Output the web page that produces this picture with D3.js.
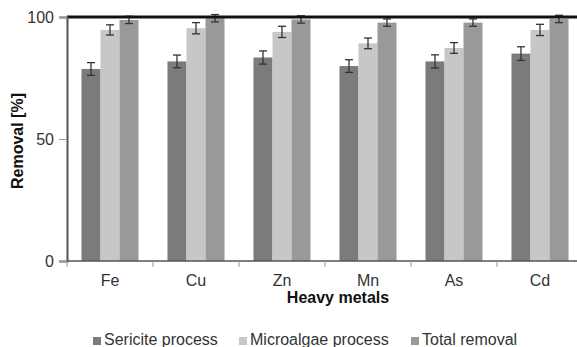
<!DOCTYPE html>
<html>
<head>
<meta charset="utf-8">
<style>
  body { margin: 0; background: #fff; }
  text { font-family: "Liberation Sans", Arial, sans-serif; }
</style>
</head>
<body>
<div id="chart"></div>
<script src="https://d3js.org/d3.v7.min.js"></script>
<script>
  const metals = ["Fe", "Cu", "Zn", "Mn", "As", "Cd"];
  const seriesNames = ["Sericite process", "Microalgae process", "Total removal"];
  const sericite = [78.7, 81.8, 83.4, 79.9, 81.8, 85.0];
  const microalgae = [94.7, 95.4, 93.9, 89.2, 87.3, 94.7];
  const total = [98.8, 99.5, 99.0, 97.7, 97.7, 99.2];
  const sericiteErr = [2.6, 2.6, 2.7, 2.6, 2.7, 2.8];
  const microalgaeErr = [2.1, 2.3, 2.3, 2.2, 2.2, 2.3];
  const totalErr = [1.5, 1.5, 1.5, 1.5, 1.5, 1.5];
  const yTicks = [0, 50, 100];
  const colors = ["#7b7b7b", "#c6c7c6", "#999999"];

  const width = 577, height = 347;
  const margin = { left: 67, right: -6, top: 17, bottom: 86 };

  const values = [sericite, microalgae, total];
  const errors = [sericiteErr, microalgaeErr, totalErr];

  const svg = d3.select("#chart").append("svg")
    .attr("width", width)
    .attr("height", height);

  const x = d3.scaleBand()
    .domain(metals)
    .range([margin.left, width - margin.right])
    .paddingInner(0.337)
    .paddingOuter(0.1685);

  const xSub = d3.scaleBand()
    .domain(d3.range(3))
    .range([0, x.bandwidth()]);

  const y = d3.scaleLinear()
    .domain([0, 100])
    .range([height - margin.bottom, margin.top]);

  // bars
  const groups = svg.append("g")
    .selectAll("g")
    .data(metals)
    .join("g")
    .attr("transform", d => `translate(${x(d)},0)`);

  const barData = (d, i) => values.map((s, k) => ({ k, v: s[i], e: errors[k][i] }));

  groups.selectAll("rect")
    .data(barData)
    .join("rect")
    .attr("x", d => xSub(d.k))
    .attr("width", xSub.bandwidth())
    .attr("y", d => y(d.v))
    .attr("height", d => y(0) - y(d.v))
    .attr("fill", d => colors[d.k]);

  // error bars
  const eb = groups.selectAll("g.err")
    .data(barData)
    .join("g")
    .attr("class", "err")
    .attr("stroke", "#333")
    .attr("stroke-width", 1.3);
  eb.append("line")
    .attr("x1", d => xSub(d.k) + xSub.bandwidth() / 2)
    .attr("x2", d => xSub(d.k) + xSub.bandwidth() / 2)
    .attr("y1", d => y(d.v - d.e))
    .attr("y2", d => y(d.v + d.e));
  eb.selectAll("line.cap")
    .data(d => [d.v - d.e, d.v + d.e].map(v => ({ k: d.k, v })))
    .join("line")
    .attr("class", "cap")
    .attr("x1", d => xSub(d.k) + xSub.bandwidth() / 2 - 4)
    .attr("x2", d => xSub(d.k) + xSub.bandwidth() / 2 + 4)
    .attr("y1", d => y(d.v))
    .attr("y2", d => y(d.v));

  // top frame line
  svg.append("line")
    .attr("x1", margin.left)
    .attr("x2", width)
    .attr("y1", y(100))
    .attr("y2", y(100))
    .attr("stroke", "#111")
    .attr("stroke-width", 3);

  // y axis
  const yAxis = svg.append("g")
    .attr("transform", `translate(${margin.left},0)`)
    .call(d3.axisLeft(y).tickValues(yTicks).tickSize(8).tickPadding(5));
  yAxis.select(".domain").attr("stroke", "#555").attr("stroke-width", 2);
  yAxis.selectAll(".tick line").attr("stroke", "#999");
  yAxis.selectAll("text")
    .style("font-family", "Liberation Sans, Arial, sans-serif")
    .style("font-size", "16px")
    .attr("fill", "#333");

  // x axis
  const xTickPos = d3.range(metals.length + 1).map(i => margin.left + i * x.step());
  svg.append("line")
    .attr("x1", margin.left)
    .attr("x2", width)
    .attr("y1", y(0))
    .attr("y2", y(0))
    .attr("stroke", "#555")
    .attr("stroke-width", 1.5);
  svg.append("g")
    .selectAll("line")
    .data(xTickPos)
    .join("line")
    .attr("x1", d => d)
    .attr("x2", d => d)
    .attr("y1", y(0))
    .attr("y2", y(0) + 6)
    .attr("stroke", "#999");
  svg.append("g")
    .selectAll("text")
    .data(metals)
    .join("text")
    .attr("x", d => x(d) + x.bandwidth() / 2)
    .attr("y", y(0) + 25)
    .attr("text-anchor", "middle")
    .style("font-size", "16px")
    .attr("fill", "#333")
    .text(d => d);

  // axis titles
  svg.append("text")
    .attr("x", 338)
    .attr("y", 303)
    .attr("text-anchor", "middle")
    .style("font-size", "16px")
    .style("font-weight", "bold")
    .attr("fill", "#111")
    .text("Heavy metals");

  svg.append("text")
    .attr("transform", "translate(23,141) rotate(-90)")
    .attr("text-anchor", "middle")
    .style("font-size", "16px")
    .style("font-weight", "bold")
    .attr("fill", "#111")
    .text("Removal [%]");

  // legend
  const legendX = [93, 239, 411];
  const legend = svg.append("g")
    .selectAll("g")
    .data(seriesNames)
    .join("g")
    .attr("transform", (d, i) => `translate(${legendX[i]},340)`);
  legend.append("rect")
    .attr("x", 0)
    .attr("y", -3)
    .attr("width", 8)
    .attr("height", 8)
    .attr("fill", (d, i) => colors[i]);
  legend.append("text")
    .attr("x", 11)
    .attr("y", 5)
    .style("font-size", "16px")
    .attr("fill", "#333")
    .text(d => d);
</script>
</body>
</html>
